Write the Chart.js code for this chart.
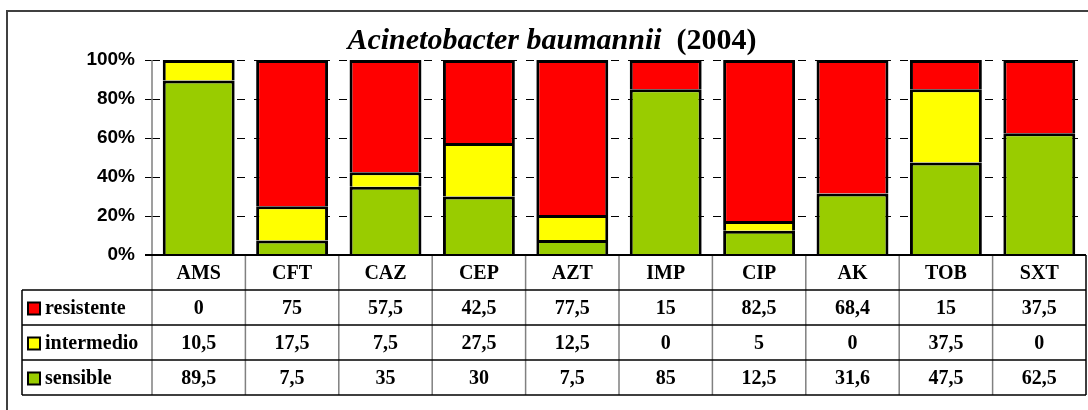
<!DOCTYPE html>
<html lang="es">
<head>
<meta charset="UTF-8">
<title>Acinetobacter baumannii (2004)</title>
<script src="https://cdn.jsdelivr.net/npm/chart.js"></script>
<style>
  html, body { margin: 0; padding: 0; background: #fff; }
  #wrap { width: 1088px; height: 410px; position: relative; }
</style>
</head>
<body>
<div id="wrap"><canvas id="chart"></canvas></div>
<script>
const categories = ['AMS', 'CFT', 'CAZ', 'CEP', 'AZT', 'IMP', 'CIP', 'AK', 'TOB', 'SXT'];
const resistente = [0, 75, 57.5, 42.5, 77.5, 15, 82.5, 68.4, 15, 37.5];
const intermedio = [10.5, 17.5, 7.5, 27.5, 12.5, 0, 5, 0, 37.5, 0];
const sensible = [89.5, 7.5, 35, 30, 7.5, 85, 12.5, 31.6, 47.5, 62.5];
const yTicks = [0, 20, 40, 60, 80, 100];

const fmt = v => String(v).replace('.', ',');
// 100% stacked: each column scaled to its own total
const totals = categories.map((_, i) => resistente[i] + intermedio[i] + sensible[i]);
const pct = arr => arr.map((v, i) => v / totals[i] * 100);

const SERIF = '"Liberation Serif", "Times New Roman", serif';

const tablePlugin = {
  id: 'tablePlugin',
  afterDraw(chart) {
    const ctx = chart.ctx;
    const area = chart.chartArea;
    const x = chart.scales.x;
    const step = x.getPixelForValue(1) - x.getPixelForValue(0);
    const rows = [
      { name: 'resistente', color: '#FF0000', data: resistente },
      { name: 'intermedio', color: '#FFFF00', data: intermedio },
      { name: 'sensible', color: '#99CC00', data: sensible }
    ];
    const top = area.bottom;
    const headH = 35;
    const rowH = 35;
    const tLeft = 22;
    const tRight = area.right;
    const bottom = top + headH + rowH * rows.length;

    ctx.save();
    // frame
    ctx.strokeStyle = '#404040';
    ctx.lineWidth = 2;
    ctx.strokeRect(7, 11, 1090, 420);

    // title
    ctx.fillStyle = '#000';
    ctx.textBaseline = 'alphabetic';
    const t1 = 'Acinetobacter baumannii';
    const t2 = '  (2004)';
    ctx.font = 'italic bold 30px ' + SERIF;
    const w1 = ctx.measureText(t1).width;
    ctx.font = 'bold 30px ' + SERIF;
    const w2 = ctx.measureText(t2).width;
    const tx = 552 - (w1 + w2) / 2;
    ctx.font = 'italic bold 30px ' + SERIF;
    ctx.fillText(t1, tx, 49);
    ctx.font = 'bold 30px ' + SERIF;
    ctx.fillText(t2, tx + w1, 49);

    // grey vertical separators and axis line
    ctx.strokeStyle = '#808080';
    ctx.lineWidth = 1.5;
    ctx.beginPath();
    ctx.moveTo(area.left, area.top);
    ctx.lineTo(area.left, bottom);
    for (let i = 0; i < categories.length - 1; i++) {
      const xr = x.getPixelForValue(i) + step / 2;
      ctx.moveTo(xr, top);
      ctx.lineTo(xr, bottom);
    }
    ctx.stroke();

    // black horizontal lines
    ctx.strokeStyle = '#000';
    ctx.lineWidth = 2;
    ctx.beginPath();
    ctx.moveTo(area.left - 7, top);
    ctx.lineTo(tRight, top);
    ctx.stroke();
    ctx.lineWidth = 1.5;
    ctx.beginPath();
    for (let r = 0; r <= rows.length; r++) {
      const yy = top + headH + r * rowH;
      ctx.moveTo(tLeft, yy);
      ctx.lineTo(tRight, yy);
    }
    ctx.moveTo(tLeft, top + headH);
    ctx.lineTo(tLeft, bottom);
    ctx.moveTo(tRight, top);
    ctx.lineTo(tRight, bottom);
    ctx.stroke();

    // header labels
    ctx.font = 'bold 20px ' + SERIF;
    ctx.textAlign = 'center';
    ctx.textBaseline = 'middle';
    categories.forEach((c, i) => {
      ctx.fillText(c, x.getPixelForValue(i), top + headH / 2 + 1);
    });

    // rows
    rows.forEach((row, r) => {
      const cy = top + headH + r * rowH + rowH / 2 + 1;
      ctx.fillStyle = row.color;
      ctx.fillRect(28, cy - 6, 12, 12);
      ctx.strokeStyle = '#000';
      ctx.lineWidth = 2;
      ctx.strokeRect(28, cy - 6, 12, 12);
      ctx.fillStyle = '#000';
      ctx.textAlign = 'left';
      ctx.fillText(row.name, 45, cy);
      ctx.textAlign = 'center';
      row.data.forEach((v, i) => {
        ctx.fillText(fmt(v), x.getPixelForValue(i), cy);
      });
    });
    ctx.restore();
  }
};

new Chart(document.getElementById('chart'), {
  type: 'bar',
  data: {
    labels: categories,
    datasets: [
      { label: 'sensible', data: pct(sensible), backgroundColor: '#99CC00' },
      { label: 'intermedio', data: pct(intermedio), backgroundColor: '#FFFF00' },
      { label: 'resistente', data: pct(resistente), backgroundColor: '#FF0000' }
    ]
  },
  options: {
    responsive: true,
    maintainAspectRatio: false,
    animation: false,
    layout: { padding: { top: 60, right: 2, bottom: 155, left: 0 } },
    datasets: {
      bar: {
        borderColor: '#000',
        borderWidth: 3,
        borderSkipped: 'bottom',
        inflateAmount: 0,
        barPercentage: 0.77,
        categoryPercentage: 1
      }
    },
    plugins: {
      legend: { display: false },
      title: { display: false },
      tooltip: { enabled: false }
    },
    scales: {
      x: { stacked: true, display: false },
      y: {
        stacked: true,
        min: 0,
        max: 100,
        afterFit(scale) { scale.width = 152; },
        afterBuildTicks(scale) { scale.ticks = yTicks.map(v => ({ value: v })); },
        border: { display: false, dash: [8, 9] },
        grid: {
          color: ctx => ctx.tick && ctx.tick.value === 0 ? 'rgba(0,0,0,0)' : '#000',
          lineWidth: 1,
          tickLength: 7,
          tickBorderDash: [],
          tickColor: '#000'
        },
        ticks: {
          padding: 10,
          color: '#000',
          font: { family: '"Liberation Sans", Arial, sans-serif', size: 19, weight: 'bold' },
          callback: v => v + '%'
        }
      }
    }
  },
  plugins: [tablePlugin]
});
</script>
</body>
</html>
